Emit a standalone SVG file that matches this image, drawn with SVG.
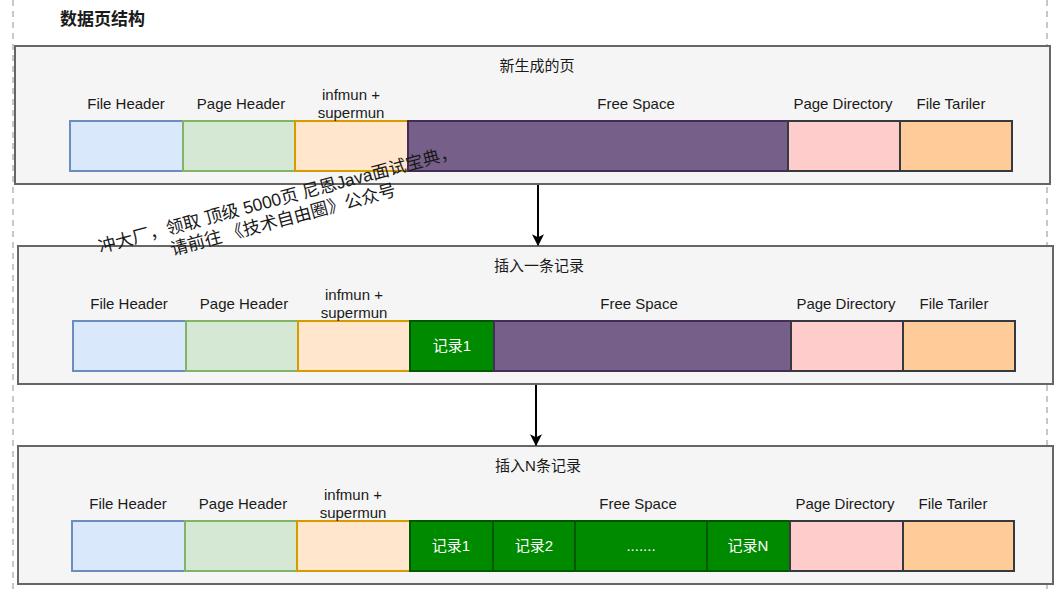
<svg xmlns="http://www.w3.org/2000/svg" width="1063" height="594" viewBox="0 0 1063 594">
<defs>
<style>
text{font-family:"Liberation Sans","Noto Sans CJK SC",sans-serif;fill:#1a1a1a}
.lbl{font-size:15px;text-anchor:middle}
.ttl{font-size:15px;text-anchor:middle}
.rec{font-size:15px;text-anchor:middle;fill:#ffffff}
.page{fill:#f5f5f5;stroke:#666666;stroke-width:2}
.fh{fill:#dae8fc;stroke:#6c8ebf;stroke-width:2}
.ph{fill:#d5e8d4;stroke:#82b366;stroke-width:2}
.inf{fill:#ffe6cc;stroke:#d79b00;stroke-width:2}
.fs{fill:#76608a;stroke:#432d57;stroke-width:2}
.pd{fill:#ffcccc;stroke:#36393d;stroke-width:2}
.ft{fill:#ffcc99;stroke:#36393d;stroke-width:2}
.r{fill:#008a00;stroke:#005700;stroke-width:2}
.dash{stroke:#c8c8c8;stroke-width:2;stroke-dasharray:6 5;fill:none}
.conn{stroke:#000000;stroke-width:2;fill:none}
</style>
<marker id="arr" viewBox="0 0 10 10" refX="9" refY="5" markerWidth="6" markerHeight="6" orient="auto" markerUnits="strokeWidth">
<path d="M0,0 L10,5 L0,10 L2.5,5 Z" fill="#000000"/>
</marker>
</defs>
<rect x="0" y="0" width="1063" height="594" fill="#ffffff"/>
<line class="dash" x1="13" y1="0" x2="13" y2="594"/>
<line class="dash" x1="1047" y1="0" x2="1047" y2="594"/>
<text x="60" y="25" style="font-size:17px;font-weight:bold">数据页结构</text>

<g id="page1">
<rect class="page" x="15" y="46" width="1035" height="138"/>
<text class="ttl" x="537" y="71">新生成的页</text>
<rect class="fh" x="70" y="121" width="113" height="50"/>
<rect class="ph" x="183" y="121" width="112" height="50"/>
<rect class="inf" x="295" y="121" width="113" height="50"/>
<rect class="fs" x="408" y="121" width="380" height="50"/>
<rect class="pd" x="788" y="121" width="112" height="50"/>
<rect class="ft" x="900" y="121" width="112" height="50"/>
<text class="lbl" x="126" y="109">File Header</text>
<text class="lbl" x="241" y="109">Page Header</text>
<text class="lbl" x="351" y="100">infmun +</text>
<text class="lbl" x="351" y="118">supermun</text>
<text class="lbl" x="636" y="109">Free Space</text>
<text class="lbl" x="843" y="109">Page Directory</text>
<text class="lbl" x="951" y="109">File Tariler</text>
</g>

<g id="page2">
<rect class="page" x="18" y="246" width="1035" height="138"/>
<text class="ttl" x="539" y="271">插入一条记录</text>
<rect class="fh" x="73" y="321" width="113" height="50"/>
<rect class="ph" x="186" y="321" width="112" height="50"/>
<rect class="inf" x="298" y="321" width="112" height="50"/>
<rect class="r" x="410" y="321" width="84" height="50"/>
<rect class="fs" x="494" y="321" width="297" height="50"/>
<rect class="pd" x="791" y="321" width="112" height="50"/>
<rect class="ft" x="903" y="321" width="112" height="50"/>
<text class="lbl" x="129" y="309">File Header</text>
<text class="lbl" x="244" y="309">Page Header</text>
<text class="lbl" x="354" y="300">infmun +</text>
<text class="lbl" x="354" y="318">supermun</text>
<text class="lbl" x="639" y="309">Free Space</text>
<text class="lbl" x="846" y="309">Page Directory</text>
<text class="lbl" x="954" y="309">File Tariler</text>
<text class="rec" x="452" y="351">记录1</text>
</g>

<g id="page3">
<rect class="page" x="18" y="446" width="1035" height="138"/>
<text class="ttl" x="538" y="471">插入N条记录</text>
<rect class="fh" x="72" y="521" width="113" height="50"/>
<rect class="ph" x="185" y="521" width="112" height="50"/>
<rect class="inf" x="297" y="521" width="113" height="50"/>
<rect class="r" x="410" y="521" width="83" height="50"/>
<rect class="r" x="493" y="521" width="82" height="50"/>
<rect class="r" x="575" y="521" width="132" height="50"/>
<rect class="r" x="707" y="521" width="83" height="50"/>
<rect class="pd" x="790" y="521" width="113" height="50"/>
<rect class="ft" x="903" y="521" width="111" height="50"/>
<text class="lbl" x="128" y="509">File Header</text>
<text class="lbl" x="243" y="509">Page Header</text>
<text class="lbl" x="353" y="500">infmun +</text>
<text class="lbl" x="353" y="518">supermun</text>
<text class="lbl" x="638" y="509">Free Space</text>
<text class="lbl" x="845" y="509">Page Directory</text>
<text class="lbl" x="953" y="509">File Tariler</text>
<text class="rec" x="451" y="551">记录1</text>
<text class="rec" x="534" y="551">记录2</text>
<text class="rec" x="641" y="551">.......</text>
<text class="rec" x="748" y="551">记录N</text>
</g>

<g id="connectors">
<line class="conn" x1="538" y1="185" x2="538" y2="245" marker-end="url(#arr)"/>
<line class="conn" x1="536" y1="385" x2="536" y2="445" marker-end="url(#arr)"/>
</g>

<g transform="rotate(-15 280 208)" style="font-size:17.5px">
<text x="280" y="205" text-anchor="middle">冲大厂，领取 顶级  5000页 尼恩Java面试宝典，</text>
<text x="280" y="226" text-anchor="middle">请前往 《技术自由圈》公众号</text>
</g>
</svg>
